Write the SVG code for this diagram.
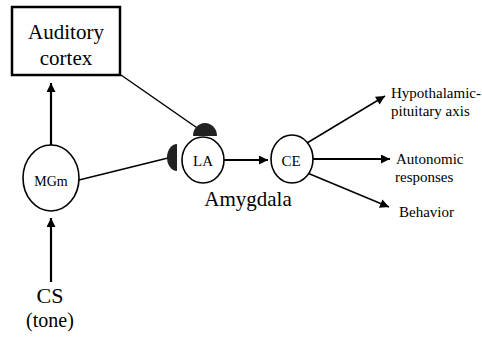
<svg xmlns="http://www.w3.org/2000/svg" width="482" height="338" viewBox="0 0 482 338">
  <defs>
    <marker id="arrow" viewBox="0 0 10 10" refX="10" refY="5" markerWidth="10" markerHeight="9" markerUnits="userSpaceOnUse" orient="auto">
      <path d="M0,0 L10,5 L0,10 Z" fill="#000"/>
    </marker>
    <filter id="soft" x="-20%" y="-20%" width="140%" height="140%">
      <feGaussianBlur stdDeviation="0.6"/>
    </filter>
  </defs>
  <style>
    text { font-family: 'Liberation Serif', 'Times New Roman', serif; fill: #000; }
    .node { fill: #fff; stroke: #000; stroke-width: 1.6; }
    .edge { stroke: #000; stroke-width: 1.5; fill: none; }
    .thick { stroke-width: 2.2; }
    .syn { fill: #222; filter: url(#soft); }
  </style>
  <rect width="482" height="338" fill="#fff"/>

  <!-- connectors -->
  <g id="connectors">
    <line class="edge thick" x1="51" y1="145" x2="51" y2="83" marker-end="url(#arrow)"/>
    <line class="edge thick" x1="51" y1="282" x2="51" y2="218" marker-end="url(#arrow)"/>
    <line class="edge" x1="121" y1="75" x2="203" y2="132"/>
    <line class="edge" x1="79" y1="180" x2="172" y2="157"/>
    <line class="edge thick" x1="224" y1="160" x2="268" y2="160" marker-end="url(#arrow)"/>
    <line class="edge" x1="307" y1="143" x2="385" y2="96" marker-end="url(#arrow)"/>
    <line class="edge thick" x1="313" y1="159" x2="390" y2="159" marker-end="url(#arrow)"/>
    <line class="edge" x1="305" y1="172" x2="389" y2="207" marker-end="url(#arrow)"/>
    <!-- synaptic terminals on LA -->
    <path class="syn" d="M193,136 A12,13 0 0 1 217,136 Z"/>
    <path class="syn" d="M177,144 A10,13.5 0 0 0 177,171 Z"/>
  </g>

  <g id="auditory-cortex">
    <rect x="12" y="7" width="108" height="68" fill="#fff" stroke="#000" stroke-width="2.5"/>
    <text x="66" y="39" font-size="21" text-anchor="middle">Auditory</text>
    <text x="66" y="65" font-size="21" text-anchor="middle">cortex</text>
  </g>

  <g id="mgm">
    <ellipse class="node" cx="51" cy="178" rx="28" ry="33"/>
    <text x="51" y="186" font-size="14" text-anchor="middle">MGm</text>
  </g>

  <g id="la">
    <ellipse class="node" cx="203" cy="160" rx="21" ry="23"/>
    <text x="203" y="166" font-size="15" text-anchor="middle">LA</text>
  </g>

  <g id="ce">
    <ellipse class="node" cx="292" cy="159" rx="21" ry="24"/>
    <text x="291" y="166" font-size="15" text-anchor="middle">CE</text>
  </g>

  <g id="amygdala-label">
    <text x="248" y="206" font-size="21" text-anchor="middle">Amygdala</text>
  </g>

  <g id="cs">
    <text x="50" y="303" font-size="22" text-anchor="middle">CS</text>
    <text x="50" y="327" font-size="20" text-anchor="middle">(tone)</text>
  </g>

  <g id="hpa">
    <text x="391" y="98" font-size="15">Hypothalamic-</text>
    <text x="391" y="116" font-size="15">pituitary axis</text>
  </g>

  <g id="autonomic">
    <text x="396" y="164" font-size="15">Autonomic</text>
    <text x="395" y="182" font-size="15">responses</text>
  </g>

  <g id="behavior">
    <text x="399" y="217" font-size="15">Behavior</text>
  </g>
</svg>
